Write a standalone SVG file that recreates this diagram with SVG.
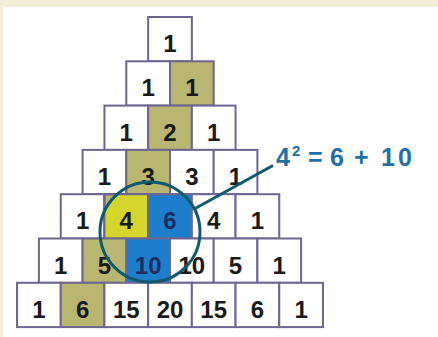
<svg xmlns="http://www.w3.org/2000/svg" width="438" height="337" viewBox="0 0 438 337">
<defs>
<style>
.cell{stroke:#6c6690;stroke-width:2}
.w{fill:#ffffff}
.o{fill:#b8b671}
.b{fill:#1d7fcb}
.t{font-family:"Liberation Sans",Arial,sans-serif;font-size:24px;font-weight:bold;fill:#1a1a1a;text-anchor:middle}
.tb{fill:#1c2d5e}
.ring{fill:none;stroke:#0f5a6e;stroke-width:3}
.lbl{font-family:"Liberation Sans",Arial,sans-serif;font-size:25px;font-weight:bold;fill:#1f6fa8}
</style>
<clipPath id="circ"><circle cx="150" cy="232" r="50"/></clipPath>
</defs>
<rect x="0" y="0" width="438" height="337" fill="#f2eed8"/>
<rect x="3" y="7" width="435" height="330" fill="#ffffff"/>

<g id="row0">
<g id="n0-0"><rect class="cell w" x="148.15" y="17" width="43.7" height="44.3"/><text class="t" x="170" y="52">1</text></g>
</g>
<g id="row1">
<g id="n1-0"><rect class="cell w" x="126.3" y="61.3" width="43.7" height="44.3"/><text class="t" x="148.15" y="96.3">1</text></g>
<g id="n1-1"><rect class="cell o" x="170" y="61.3" width="43.7" height="44.3"/><text class="t" x="191.85" y="96.3">1</text></g>
</g>
<g id="row2">
<g id="n2-0"><rect class="cell w" x="104.45" y="105.6" width="43.7" height="44.3"/><text class="t" x="126.3" y="140.6">1</text></g>
<g id="n2-1"><rect class="cell o" x="148.15" y="105.6" width="43.7" height="44.3"/><text class="t" x="170" y="140.6">2</text></g>
<g id="n2-2"><rect class="cell w" x="191.85" y="105.6" width="43.7" height="44.3"/><text class="t" x="213.7" y="140.6">1</text></g>
</g>
<g id="row3">
<g id="n3-0"><rect class="cell w" x="82.6" y="149.9" width="43.7" height="44.3"/><text class="t" x="104.45" y="184.9">1</text></g>
<g id="n3-1"><rect class="cell o" x="126.3" y="149.9" width="43.7" height="44.3"/><text class="t" x="148.15" y="184.9">3</text></g>
<g id="n3-2"><rect class="cell w" x="170" y="149.9" width="43.7" height="44.3"/><text class="t" x="191.85" y="184.9">3</text></g>
<g id="n3-3"><rect class="cell w" x="213.7" y="149.9" width="43.7" height="44.3"/><text class="t" x="235.55" y="184.9">1</text></g>
</g>
<g id="row4">
<g id="n4-0"><rect class="cell w" x="60.75" y="194.2" width="43.7" height="44.3"/><text class="t" x="82.6" y="229.2">1</text></g>
<g id="n4-1"><rect class="cell o" x="104.45" y="194.2" width="43.7" height="44.3"/><rect x="104.45" y="194.2" width="43.7" height="44.3" fill="#d6d52c" clip-path="url(#circ)"/><rect x="104.45" y="194.2" width="43.7" height="44.3" fill="none" class="cell"/><text class="t" x="126.3" y="229.2">4</text></g>
<g id="n4-2"><rect class="cell b" x="148.15" y="194.2" width="43.7" height="44.3"/><text class="t tb" x="170" y="229.2">6</text></g>
<g id="n4-3"><rect class="cell w" x="191.85" y="194.2" width="43.7" height="44.3"/><text class="t" x="213.7" y="229.2">4</text></g>
<g id="n4-4"><rect class="cell w" x="235.55" y="194.2" width="43.7" height="44.3"/><text class="t" x="257.4" y="229.2">1</text></g>
</g>
<g id="row5">
<g id="n5-0"><rect class="cell w" x="38.9" y="238.5" width="43.7" height="44.3"/><text class="t" x="60.75" y="273.5">1</text></g>
<g id="n5-1"><rect class="cell o" x="82.6" y="238.5" width="43.7" height="44.3"/><text class="t" x="104.45" y="273.5">5</text></g>
<g id="n5-2"><rect class="cell b" x="126.3" y="238.5" width="43.7" height="44.3"/><text class="t tb" x="148.15" y="273.5">10</text></g>
<g id="n5-3"><rect class="cell w" x="170" y="238.5" width="43.7" height="44.3"/><text class="t" x="191.85" y="273.5">10</text></g>
<g id="n5-4"><rect class="cell w" x="213.7" y="238.5" width="43.7" height="44.3"/><text class="t" x="235.55" y="273.5">5</text></g>
<g id="n5-5"><rect class="cell w" x="257.4" y="238.5" width="43.7" height="44.3"/><text class="t" x="279.25" y="273.5">1</text></g>
</g>
<g id="row6">
<g id="n6-0"><rect class="cell w" x="17.05" y="282.8" width="43.7" height="44.3"/><text class="t" x="38.9" y="317.8">1</text></g>
<g id="n6-1"><rect class="cell o" x="60.75" y="282.8" width="43.7" height="44.3"/><text class="t" x="82.6" y="317.8">6</text></g>
<g id="n6-2"><rect class="cell w" x="104.45" y="282.8" width="43.7" height="44.3"/><text class="t" x="126.3" y="317.8">15</text></g>
<g id="n6-3"><rect class="cell w" x="148.15" y="282.8" width="43.7" height="44.3"/><text class="t" x="170" y="317.8">20</text></g>
<g id="n6-4"><rect class="cell w" x="191.85" y="282.8" width="43.7" height="44.3"/><text class="t" x="213.7" y="317.8">15</text></g>
<g id="n6-5"><rect class="cell w" x="235.55" y="282.8" width="43.7" height="44.3"/><text class="t" x="257.4" y="317.8">6</text></g>
<g id="n6-6"><rect class="cell w" x="279.25" y="282.8" width="43.7" height="44.3"/><text class="t" x="301.1" y="317.8">1</text></g>
</g>

<g id="connectors">
<circle class="ring" cx="150" cy="232" r="50"/>
<line x1="196" y1="208" x2="272" y2="166" stroke="#0f5a6e" stroke-width="3" stroke-linecap="round"/>
</g>
<g id="label">
<text class="lbl" y="166"><tspan x="276">4</tspan><tspan x="292" dy="-10" font-size="15">2</tspan><tspan x="308" dy="10">=</tspan><tspan x="330">6</tspan><tspan x="354">+</tspan><tspan x="381" letter-spacing="3">10</tspan></text>
</g>
</svg>
